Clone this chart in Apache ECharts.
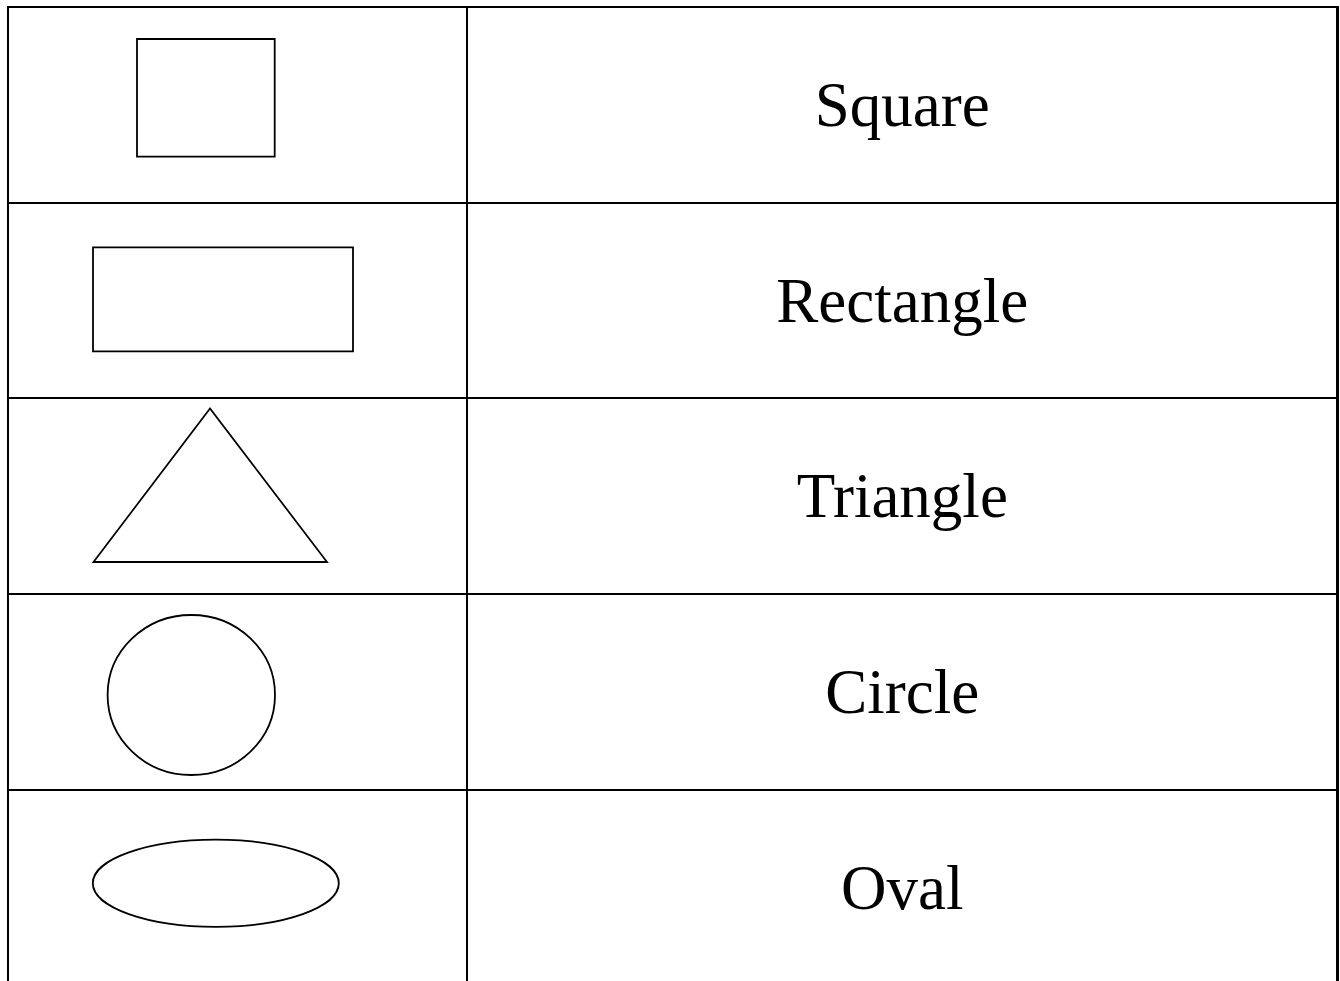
<!DOCTYPE html>
<html>
<head>
<meta charset="utf-8">
<script src="https://cdn.jsdelivr.net/npm/echarts@6/dist/echarts.min.js"></script>
<style>
html,body{margin:0;padding:0;background:#fff;}
#chart{width:1340px;height:981px;}
</style>
</head>
<body>
<div id="chart"></div>
<script>
// ---- data ----
const categories = ['Square', 'Rectangle', 'Triangle', 'Circle', 'Oval'];
const shapeTypes = ['square', 'rectangle', 'triangle', 'circle', 'oval'];
const rowIndex = [0, 1, 2, 3, 4];

// ---- layout / style (pixel offsets inside each row, relative to the row's top-left) ----
const rowHeight = 195.7;
const gridTop = 7;
const dividerX = 0.34524; // fraction of table width where the column divider sits
const shapeGeom = {
  square:    { type: 'rect', x: 129, y: 32, w: 137.7, h: 117.7 },
  rectangle: { type: 'rect', x: 85, y: 44.3, w: 260, h: 104 },
  triangle:  { type: 'tri', pts: [[202, 10.5], [85.5, 164], [319, 164]] },
  circle:    { type: 'ell', cx: 183.3, cy: 101, rx: 83.7, ry: 80 },
  oval:      { type: 'ell', cx: 207.8, cy: 93.3, rx: 123, ry: 43.6 }
};
const textBaselineOffset = 119;
const fontSize = 63;

const chart = echarts.init(document.getElementById('chart'), null, { renderer: 'canvas' });

function renderItem(params, api) {
  const i = api.value(0);
  const tl = api.coord([0, i]);
  const br = api.coord([1, i + 1]);
  const dv = api.coord([dividerX, i]);
  const left = tl[0], top = Math.round(tl[1]), right = br[0], bottom = Math.round(br[1]);
  const divX = Math.round(dv[0]);
  const lineStyle = { stroke: '#000', lineWidth: 2 };
  const children = [
    { type: 'line', shape: { x1: left - 1, y1: top, x2: right + 1.5, y2: top }, style: lineStyle },
    { type: 'line', shape: { x1: left, y1: top, x2: left, y2: bottom + 1 }, style: lineStyle },
    { type: 'line', shape: { x1: divX, y1: top, x2: divX, y2: bottom + 1 }, style: lineStyle },
    { type: 'line', shape: { x1: right, y1: top - 1, x2: right, y2: bottom + 1 }, style: { stroke: '#000', lineWidth: 3 } }
  ];
  const g = shapeGeom[shapeTypes[i]];
  const shapeStyle = { stroke: '#000', lineWidth: 1.8, fill: '#fff' };
  if (g.type === 'rect') {
    children.push({ type: 'rect', shape: { x: left + g.x, y: top + g.y, width: g.w, height: g.h }, style: shapeStyle });
  } else if (g.type === 'tri') {
    children.push({ type: 'polygon', shape: { points: g.pts.map(p => [left + p[0], top + p[1]]) }, style: shapeStyle });
  } else {
    children.push({ type: 'ellipse', shape: { cx: left + g.cx, cy: top + g.cy, rx: g.rx, ry: g.ry }, style: shapeStyle });
  }
  children.push({
    type: 'text',
    style: {
      text: categories[i],
      x: (divX + right) / 2,
      y: top + textBaselineOffset - fontSize * 0.26,
      align: 'center',
      verticalAlign: 'middle',
      fill: '#000',
      font: fontSize + 'px "Liberation Serif", "Times New Roman", serif'
    }
  });
  return { type: 'group', children: children };
}

chart.setOption({
  animation: false,
  backgroundColor: '#fff',
  grid: { left: 8, top: gridTop, right: 2.5, bottom: 0 },
  xAxis: { type: 'value', min: 0, max: 1, show: false },
  yAxis: { type: 'value', min: 0, max: (981 - gridTop) / rowHeight, inverse: true, show: false },
  series: [{
    type: 'custom',
    renderItem: renderItem,
    clip: false,
    data: rowIndex.map(i => [i]),
    encode: { x: -1, y: 0 }
  }]
});
</script>
</body>
</html>
